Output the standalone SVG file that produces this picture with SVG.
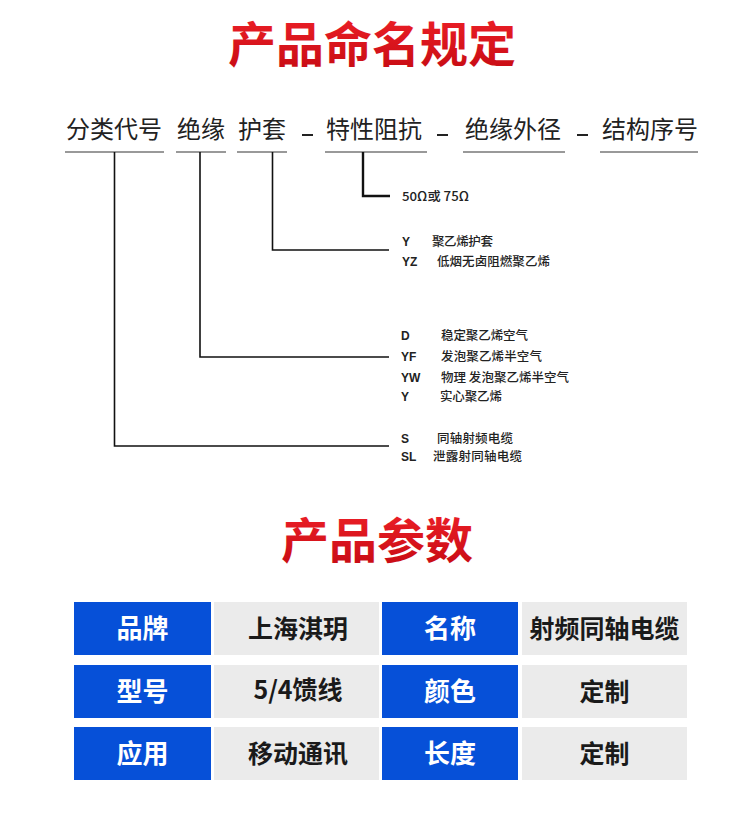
<svg xmlns="http://www.w3.org/2000/svg" width="750" height="814" viewBox="0 0 750 814">
  <defs>
    <linearGradient id="redg" x1="0" y1="0" x2="0" y2="1">
      <stop offset="0" stop-color="#f2222a"/>
      <stop offset="1" stop-color="#c40a12"/>
    </linearGradient>
    <style>
      .title{font-family:"Noto Sans CJK SC","Noto Sans",sans-serif;font-weight:bold;font-size:48px;fill:url(#redg);text-anchor:middle}
      .head{font-family:"Noto Sans CJK SC","Noto Sans",sans-serif;font-size:24px;fill:#222;text-anchor:middle}
      .uline{stroke:#777;stroke-width:1.4;fill:none}
      .dash{stroke:#222;stroke-width:2;fill:none}
      .conn{stroke:#111;stroke-width:1.6;fill:none}
      .code{font-family:"Liberation Sans","Noto Sans",sans-serif;font-weight:bold;font-size:12px;fill:#222}
      .desc{font-family:"Noto Sans CJK SC","Noto Sans",sans-serif;font-weight:500;font-size:12.5px;fill:#222}
      .blue{fill:#0650d8}
      .gray{fill:#ebebeb}
      .bt{font-family:"Noto Sans CJK SC","Noto Sans",sans-serif;font-weight:bold;font-size:26px;fill:#fff;text-anchor:middle}
      .gt{font-family:"Noto Sans CJK SC","Noto Sans",sans-serif;font-weight:bold;font-size:25px;fill:#1a1a1a;text-anchor:middle}
    </style>
  </defs>
  <rect x="0" y="0" width="750" height="814" fill="#fff"/>

  <text class="title" x="372" y="62">产品命名规定</text>

  <g id="head-fenlei"><text class="head" x="114" y="138">分类代号</text><line class="uline" x1="65" y1="152" x2="164" y2="152"/></g>
  <g id="head-jueyuan"><text class="head" x="201" y="138">绝缘</text><line class="uline" x1="176" y1="152" x2="226" y2="152"/></g>
  <g id="head-hutao"><text class="head" x="262" y="138">护套</text><line class="uline" x1="237" y1="152" x2="287" y2="152"/></g>
  <g id="head-zukang"><text class="head" x="374" y="138">特性阻抗</text><line class="uline" x1="325" y1="152" x2="427" y2="152"/></g>
  <g id="head-waijing"><text class="head" x="513" y="138">绝缘外径</text><line class="uline" x1="463" y1="152" x2="565" y2="152"/></g>
  <g id="head-xuhao"><text class="head" x="650" y="138">结构序号</text><line class="uline" x1="600" y1="152" x2="698" y2="152"/></g>
  <g id="dashes">
    <line class="dash" x1="302" y1="135" x2="313" y2="135"/>
    <line class="dash" x1="437" y1="135" x2="448" y2="135"/>
    <line class="dash" x1="577" y1="135" x2="588" y2="135"/>
  </g>

  <g id="connectors">
    <polyline class="conn" style="stroke-width:2.4" points="363,152 363,196 390,196"/>
    <polyline class="conn" points="272.5,152 272.5,250 389,250"/>
    <polyline class="conn" points="200,152 200,357 389,357"/>
    <polyline class="conn" points="114.5,152 114.5,446 389,446"/>
  </g>

  <g id="label-zukang">
    <text class="desc" x="402" y="200.5" textLength="67" lengthAdjust="spacingAndGlyphs">50Ω或 75Ω</text>
  </g>
  <g id="label-hutao">
    <text class="code" x="402" y="246">Y</text><text class="desc" x="432" y="246" textLength="61">聚乙烯护套</text>
    <text class="code" x="402" y="266">YZ</text><text class="desc" x="437" y="266" textLength="113">低烟无卤阻燃聚乙烯</text>
  </g>
  <g id="label-jueyuan">
    <text class="code" x="401" y="339.5">D</text><text class="desc" x="441" y="339.5" textLength="87">稳定聚乙烯空气</text>
    <text class="code" x="401" y="361">YF</text><text class="desc" x="441" y="361" textLength="101">发泡聚乙烯半空气</text>
    <text class="code" x="401" y="381.5">YW</text><text class="desc" x="441" y="381.5" textLength="128">物理 发泡聚乙烯半空气</text>
    <text class="code" x="401" y="401">Y</text><text class="desc" x="440" y="401" textLength="62">实心聚乙烯</text>
  </g>
  <g id="label-fenlei">
    <text class="code" x="401" y="442.5">S</text><text class="desc" x="437" y="442.5" textLength="76">同轴射频电缆</text>
    <text class="code" x="401" y="460.5">SL</text><text class="desc" x="433" y="460.5" textLength="89">泄露射同轴电缆</text>
  </g>

  <text class="title" x="377" y="558">产品参数</text>

  <g id="row1">
    <rect class="blue" x="74" y="602" width="137" height="53"/><text class="bt" x="142.5" y="638">品牌</text>
    <rect class="gray" x="214" y="602" width="165" height="53"/><text class="gt" x="298" y="638">上海淇玥</text>
    <rect class="blue" x="382" y="602" width="136" height="53"/><text class="bt" x="450" y="638">名称</text>
    <rect class="gray" x="522" y="602" width="165" height="53"/><text class="gt" x="604.5" y="638">射频同轴电缆</text>
  </g>
  <g id="row2">
    <rect class="blue" x="74" y="665" width="137" height="53"/><text class="bt" x="142.5" y="701">型号</text>
    <rect class="gray" x="214" y="665" width="165" height="53"/><text class="gt" x="298" y="699">5/4馈线</text>
    <rect class="blue" x="382" y="665" width="136" height="53"/><text class="bt" x="450" y="701">颜色</text>
    <rect class="gray" x="522" y="665" width="165" height="53"/><text class="gt" x="604.5" y="701">定制</text>
  </g>
  <g id="row3">
    <rect class="blue" x="74" y="727" width="137" height="53"/><text class="bt" x="142.5" y="763">应用</text>
    <rect class="gray" x="214" y="727" width="165" height="53"/><text class="gt" x="298" y="763">移动通讯</text>
    <rect class="blue" x="382" y="727" width="136" height="53"/><text class="bt" x="450" y="763">长度</text>
    <rect class="gray" x="522" y="727" width="165" height="53"/><text class="gt" x="604.5" y="763">定制</text>
  </g>
</svg>
